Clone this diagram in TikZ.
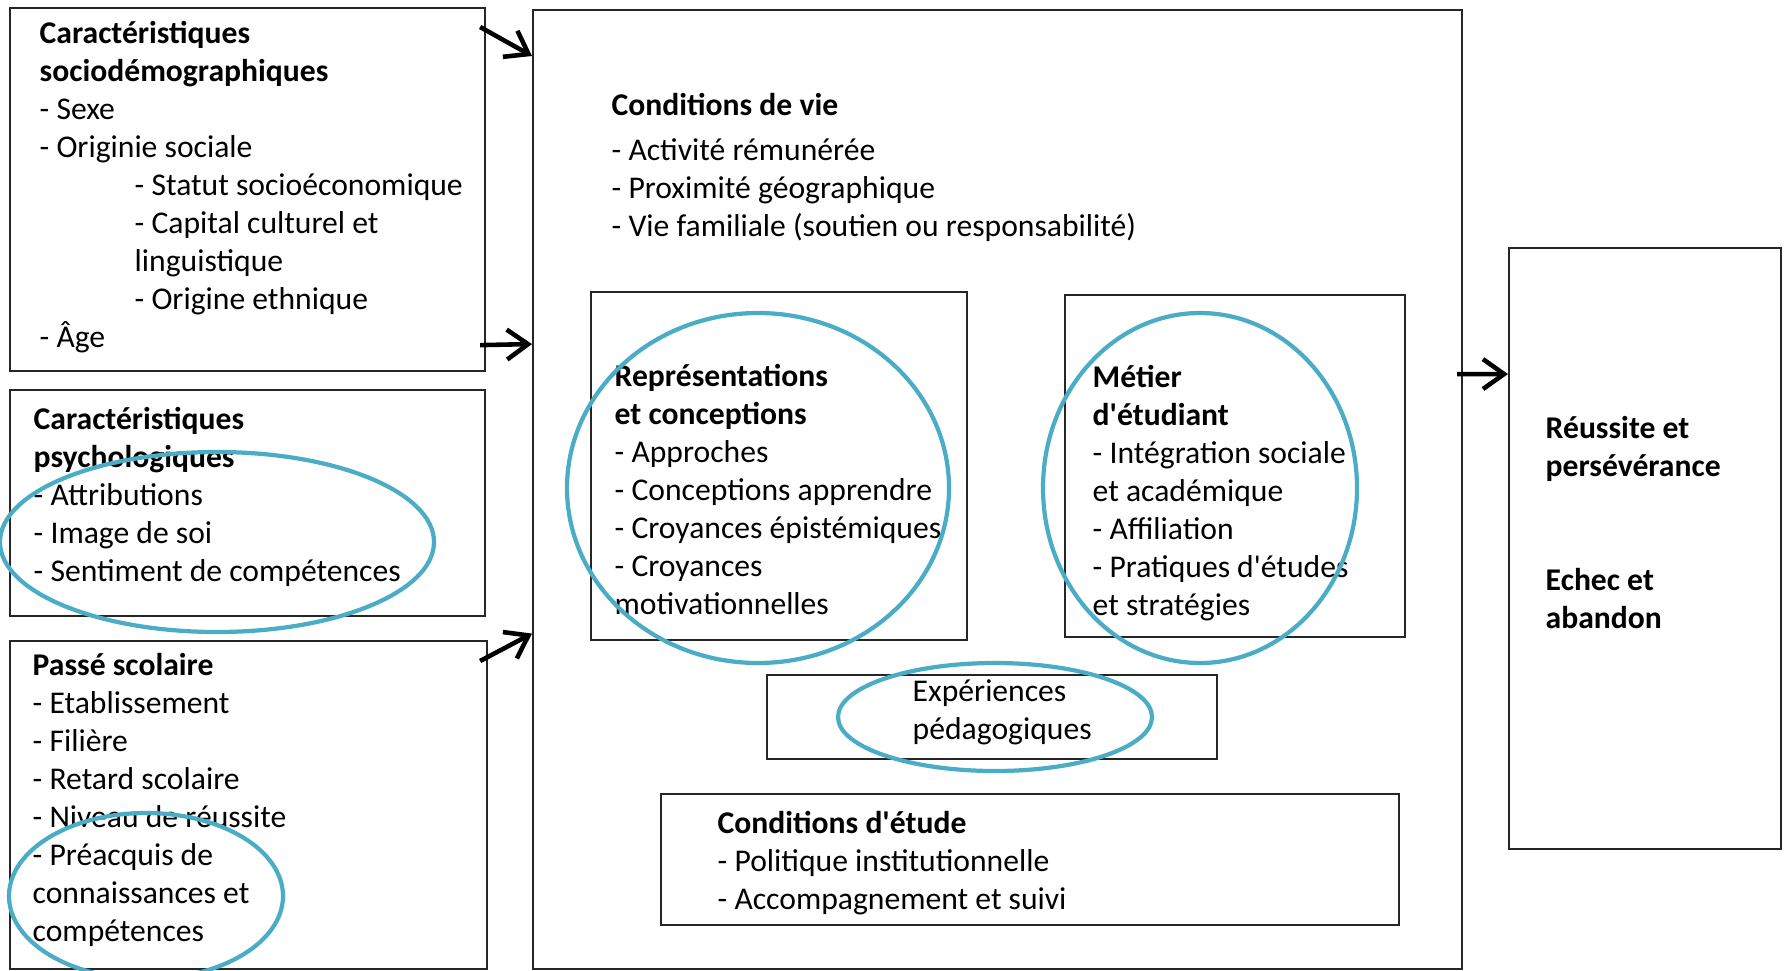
\documentclass[tikz,border=0pt]{standalone}
\usepackage{fontspec}
\setmainfont{Carlito}
\usetikzlibrary{arrows.meta}
\definecolor{bleucercle}{RGB}{75,172,198}

\begin{document}
\begin{tikzpicture}[
	boite/.style={draw=black!85, line width=0.6pt, anchor=north west, inner sep=0pt},
	texte/.style={anchor=north west, inner sep=0pt, align=left, font=\fontsize{9}{10.8}\selectfont},
	cercle/.style={draw=bleucercle, line width=1.2pt},
	fleche/.style={-{Straight Barb[length=6pt,width=8.5pt]}, line width=1.3pt}]
		
		\useasboundingbox (0,0) rectangle (17.85,-9.70);
		
		% Left boxes
		\node[boite, minimum width=4.75cm, minimum height=3.63cm] (socio) at (0.09,-0.07) {};
		\node[boite, minimum width=4.75cm, minimum height=2.26cm] (psycho) at (0.09,-3.89) {};
		\node[boite, minimum width=4.77cm, minimum height=3.28cm] (passe) at (0.09,-6.40) {};
		
		\node[texte] (sociotxt) at (0.39,-0.21) {\textbf{Caractéristiques}\\\textbf{sociodémographiques}\\- Sexe\\- Originie sociale\\\hspace*{0.95cm}- Statut socioéconomique\\\hspace*{0.95cm}- Capital culturel et\\\hspace*{0.95cm}linguistique\\\hspace*{0.95cm}- Origine ethnique\\- Âge};
		\node[texte] (psychotxt) at (0.33,-4.07) {\textbf{Caractéristiques}\\\textbf{psychologiques}\\- Attributions\\- Image de soi\\- Sentiment de compétences};
		\node[texte] (passetxt) at (0.32,-6.53) {\textbf{Passé scolaire}\\- Etablissement\\- Filière\\- Retard scolaire\\- Niveau de réussite\\- Préacquis de\\connaissances et\\compétences};
		
		% Centre box
		\node[boite, minimum width=9.29cm, minimum height=9.59cm] (centre) at (5.32,-0.09) {};
		\node[texte] (vietxt) at (6.11,-0.93) {\textbf{Conditions de vie}\\[2pt]- Activité rémunérée\\- Proximité géographique\\- Vie familiale (soutien ou responsabilité)};
		
		\node[boite, minimum width=3.76cm, minimum height=3.48cm] (repr) at (5.90,-2.91) {};
		\node[boite, minimum width=3.40cm, minimum height=3.42cm] (metier) at (10.64,-2.94) {};
		\node[boite, minimum width=4.50cm, minimum height=0.84cm] (exper) at (7.66,-6.74) {};
		\node[boite, minimum width=7.38cm, minimum height=1.31cm] (etude) at (6.60,-7.93) {};
		
		\node[texte] (reprtxt) at (6.14,-3.64) {\textbf{Représentations}\\\textbf{et conceptions}\\- Approches\\- Conceptions apprendre\\- Croyances épistémiques\\- Croyances\\motivationnelles};
		\node[texte] (metiertxt) at (10.92,-3.65) {\textbf{Métier}\\\textbf{d\textquotesingle étudiant}\\- Intégration sociale\\et académique\\- Affiliation\\- Pratiques d\textquotesingle études\\et stratégies};
		\node[texte] (expertxt) at (9.12,-6.79) {Expériences\\pédagogiques};
		\node[texte] (etudetxt) at (7.17,-8.11) {\textbf{Conditions d\textquotesingle étude}\\- Politique institutionnelle\\- Accompagnement et suivi};
		
		% Right box
		\node[boite, minimum width=2.72cm, minimum height=6.01cm] (resultat) at (15.08,-2.47) {};
		\node[texte, font=\fontsize{9}{10.8}\selectfont\bfseries] (resultattxt) at (15.45,-4.16) {Réussite et\\persévérance\\[21.6pt]Echec et\\abandon};
		
		% Draw arrows
		\draw[fleche] ([shift={(-0.06,-0.20)}]socio.north east) -- ([yshift=-0.47cm]centre.north west);
		\draw[fleche] ([shift={(-0.06,0.27)}]socio.south east) -- ([yshift=1.455cm]centre.west);
		\draw[fleche] ([shift={(-0.08,-0.21)}]passe.north east) -- ([yshift=-1.44cm]centre.west);
		\draw[fleche] ([shift={(-0.06,1.155)}]centre.east) -- ([yshift=1.745cm]resultat.west);
		
		% Draw highlight ellipses
		\draw[cercle] (2.17,-5.42) ellipse [x radius=2.17, y radius=0.90];
		\draw[cercle] (1.46,-8.96) ellipse [x radius=1.37, y radius=0.83];
		\draw[cercle] (7.58,-4.88) ellipse [x radius=1.91, y radius=1.75];
		\draw[cercle] (12.00,-4.88) ellipse [x radius=1.57, y radius=1.75];
		\draw[cercle] (9.95,-7.17) ellipse [x radius=1.57, y radius=0.54];
		
\end{tikzpicture}
\end{document}
